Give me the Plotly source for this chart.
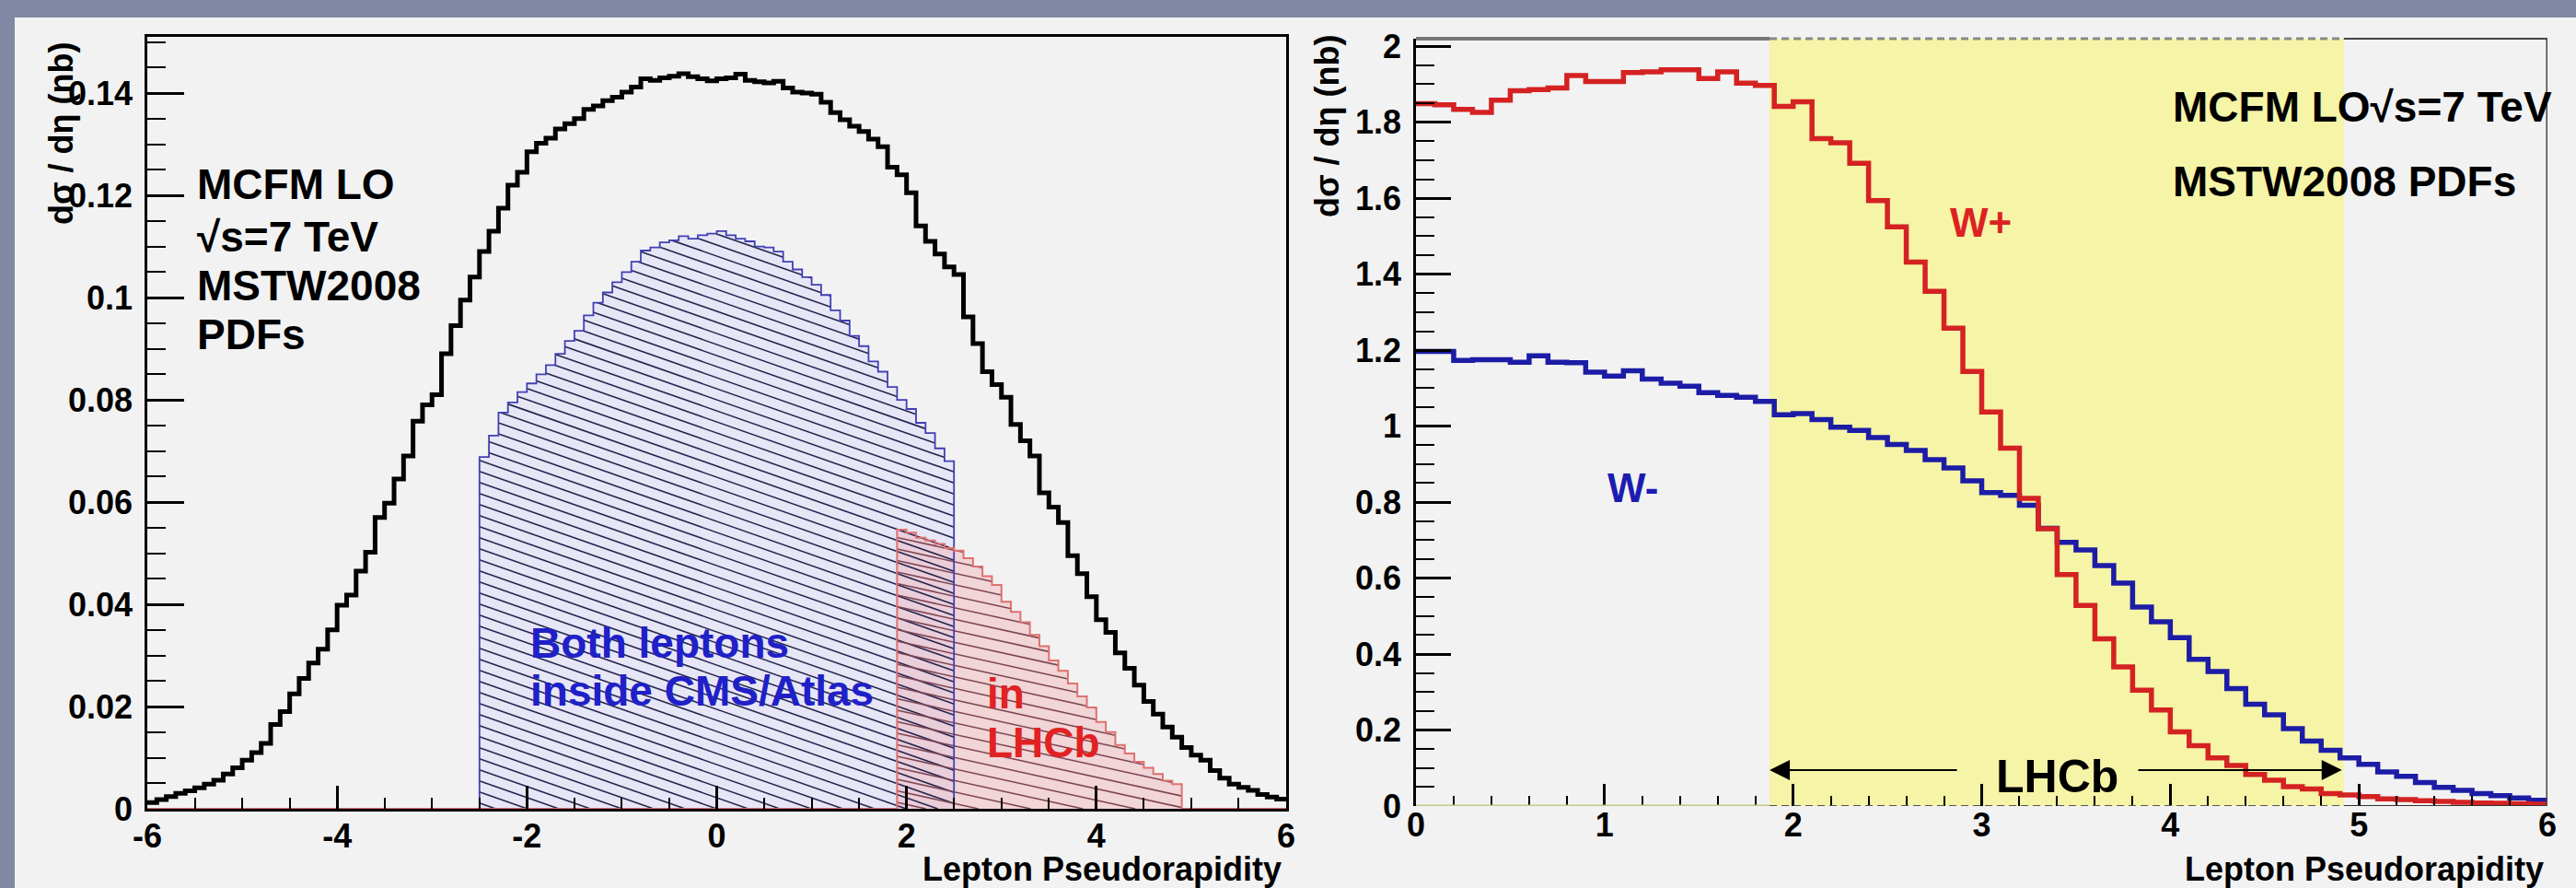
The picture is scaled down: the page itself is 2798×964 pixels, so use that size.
import numpy as np
import plotly.graph_objects as go

# ---------------- data ----------------
BIN_W = 0.1
ALL_START = -6.0
all_leptons = [
    0.0012, 0.0018, 0.0024, 0.0030, 0.0035, 0.0041, 0.0048, 0.0056, 0.0068, 0.0080,
    0.0095, 0.0110, 0.0128, 0.0165, 0.0190, 0.0225, 0.0255, 0.0285, 0.0312, 0.0350,
    0.0398, 0.0418, 0.0465, 0.0502, 0.0570, 0.0598, 0.0645, 0.0690, 0.0758, 0.0790,
    0.0810, 0.0890, 0.0945, 0.0995, 0.1040, 0.1090, 0.1130, 0.1175, 0.1220, 0.1245,
    0.1285, 0.1302, 0.1312, 0.1330, 0.1340, 0.1350, 0.1368, 0.1375, 0.1385, 0.1392,
    0.1402, 0.1412, 0.1428, 0.1425, 0.1430, 0.1433, 0.1438, 0.1432, 0.1428, 0.1424,
    0.1428, 0.1430, 0.1437, 0.1425, 0.1422, 0.1420, 0.1423, 0.1410, 0.1402, 0.1400,
    0.1398, 0.1382, 0.1362, 0.1348, 0.1335, 0.1325, 0.1310, 0.1295, 0.1255, 0.1240,
    0.1205, 0.1140, 0.1110, 0.1085, 0.1060, 0.1045, 0.0962, 0.0910, 0.0855, 0.0830,
    0.0805, 0.0752, 0.0720, 0.0690, 0.0618, 0.0590, 0.0560, 0.0495, 0.0460, 0.0415,
    0.0370, 0.0345, 0.0305, 0.0275, 0.0242, 0.0210, 0.0185, 0.0160, 0.0140, 0.0120,
    0.0105, 0.0095, 0.0075, 0.0060, 0.0048, 0.0042, 0.0036, 0.0028, 0.0023, 0.0019,
]
CMS_START = -2.5
cms_atlas = [
    0.0688, 0.0730, 0.0775, 0.0795, 0.0815, 0.0832, 0.0850, 0.0868, 0.0890, 0.0915,
    0.0935, 0.0965, 0.0990, 0.1010, 0.1030, 0.1050, 0.1070, 0.1092, 0.1098, 0.1108,
    0.1112, 0.1120, 0.1115, 0.1122, 0.1125, 0.1130, 0.1122, 0.1115, 0.1110, 0.1100,
    0.1098, 0.1090, 0.1070, 0.1055, 0.1040, 0.1025, 0.1005, 0.0975, 0.0955, 0.0925,
    0.0905, 0.0875, 0.0855, 0.0825, 0.0800, 0.0782, 0.0755, 0.0735, 0.0705, 0.0680,
]
LHCB_START = 1.9
lhcb = [
    0.0546, 0.0540, 0.0530, 0.0525, 0.0518, 0.0510, 0.0505, 0.0490, 0.0474, 0.0455,
    0.0438, 0.0405, 0.0385, 0.0365, 0.0340, 0.0318, 0.0290, 0.0270, 0.0245, 0.0220,
    0.0198, 0.0170, 0.0150, 0.0125, 0.0108, 0.0092, 0.0080, 0.0068, 0.0055, 0.0048,
]

W_START = 0.0
w_plus = [
    1.849, 1.846, 1.834, 1.826, 1.858, 1.883, 1.886, 1.890, 1.923, 1.907,
    1.907, 1.931, 1.933, 1.938, 1.938, 1.915, 1.933, 1.903, 1.897, 1.842,
    1.854, 1.757, 1.746, 1.692, 1.594, 1.525, 1.432, 1.355, 1.258, 1.144,
    1.037, 0.942, 0.810, 0.730, 0.609, 0.528, 0.440, 0.366, 0.305, 0.253,
    0.195, 0.159, 0.127, 0.107, 0.083, 0.068, 0.051, 0.045, 0.033, 0.029,
    0.025, 0.019, 0.017, 0.014, 0.012, 0.010, 0.008, 0.007, 0.006, 0.005,
]
w_minus = [
    1.197, 1.197, 1.173, 1.175, 1.175, 1.168, 1.185, 1.168, 1.167, 1.142,
    1.132, 1.146, 1.124, 1.113, 1.105, 1.088, 1.081, 1.076, 1.065, 1.030,
    1.033, 1.017, 0.997, 0.989, 0.970, 0.952, 0.936, 0.912, 0.890, 0.856,
    0.825, 0.818, 0.792, 0.731, 0.694, 0.674, 0.633, 0.587, 0.524, 0.485,
    0.443, 0.386, 0.354, 0.309, 0.268, 0.240, 0.204, 0.171, 0.147, 0.127,
    0.110, 0.090, 0.078, 0.062, 0.049, 0.041, 0.033, 0.027, 0.021, 0.015,
]

lhcb_window = [1.875, 4.92]

left_xtick_vals = [-6, -4, -2, 0, 2, 4, 6]
left_xtick_text = ["-6", "-4", "-2", "0", "2", "4", "6"]
left_ytick_vals = [0, 0.02, 0.04, 0.06, 0.08, 0.1, 0.12, 0.14]
left_ytick_text = ["0", "0.02", "0.04", "0.06", "0.08", "0.1", "0.12", "0.14"]
right_xtick_vals = [0, 1, 2, 3, 4, 5, 6]
right_xtick_text = ["0", "1", "2", "3", "4", "5", "6"]
right_ytick_vals = [0, 0.2, 0.4, 0.6, 0.8, 1.0, 1.2, 1.4, 1.6, 1.8, 2.0]
right_ytick_text = ["0", "0.2", "0.4", "0.6", "0.8", "1", "1.2", "1.4", "1.6", "1.8", "2"]

# ---------------- geometry ----------------
W, H = 2798, 964
L_X = (160, 1397)
L_Y = (878, 40)
R_X = (1538, 2767)
R_Y = (875, 42)
L_YMAX = 0.151
R_YMAX = 2.02
FONT = "Liberation Sans, Arial, Helvetica, sans-serif"
SLATE = "#8088a3"
PANEL = "#f2f2f2"


def step(start, vals, close=True):
    edges = [start + i * BIN_W for i in range(len(vals) + 1)]
    if close:
        xs = [edges[0]] + edges + [edges[-1]]
        ys = [0.0] + list(vals) + [vals[-1], 0.0]
    else:
        xs = edges
        ys = list(vals) + [vals[-1]]
    return xs, ys


def hatch(start, vals, slope_px, gap_px, ppx, ppy):
    m = -slope_px * ppx / ppy
    db = gap_px / ppy
    n = len(vals)
    xmin, xmax = start, start + n * BIN_W
    b_min = -m * xmin
    b_max = max(vals) - m * xmax
    xs, ys = [], []
    for k in range(int(np.floor(b_min / db)), int(np.ceil(b_max / db)) + 1):
        b = k * db
        seg = None
        for i, h in enumerate(vals):
            if h <= 0:
                continue
            a = start + i * BIN_W
            c = a + BIN_W
            lo = max(a, (h - b) / m)
            hi = min(c, (0 - b) / m)
            if hi > lo:
                if seg is not None and abs(seg[1] - lo) < 1e-9:
                    seg[1] = hi
                else:
                    if seg is not None:
                        xs += [seg[0], seg[1], None]
                        ys += [b + m * seg[0], b + m * seg[1], None]
                    seg = [lo, hi]
        if seg is not None:
            xs += [seg[0], seg[1], None]
            ys += [b + m * seg[0], b + m * seg[1], None]
    return xs, ys


L_PPX = (L_X[1] - L_X[0]) / 12.0
L_PPY = (L_Y[0] - L_Y[1]) / L_YMAX

fig = go.Figure()

# ---- left panel ----
bx, by = step(CMS_START, cms_atlas)
fig.add_trace(go.Scatter(x=bx, y=by, mode="lines", line=dict(width=0, shape="hv"),
                         fill="tozeroy", fillcolor="#e6e6f6", hoverinfo="skip",
                         xaxis="x", yaxis="y", cliponaxis=False))
rx, ry = step(LHCB_START, lhcb)
fig.add_trace(go.Scatter(x=rx, y=ry, mode="lines", line=dict(width=0, shape="hv"),
                         fill="tozeroy", fillcolor="rgba(242,160,165,0.35)", hoverinfo="skip",
                         xaxis="x", yaxis="y", cliponaxis=False))
hx, hy = hatch(CMS_START, cms_atlas, 0.35, 12.0, L_PPX, L_PPY)
fig.add_trace(go.Scatter(x=hx, y=hy, mode="lines", line=dict(width=1.6, color="#26264e"),
                         hoverinfo="skip", xaxis="x", yaxis="y"))
hx2, hy2 = hatch(LHCB_START, lhcb, 0.22, 12.5, L_PPX, L_PPY)
fig.add_trace(go.Scatter(x=hx2, y=hy2, mode="lines", line=dict(width=1.6, color="#7e4652"),
                         hoverinfo="skip", xaxis="x", yaxis="y"))
fig.add_trace(go.Scatter(x=bx, y=by, mode="lines", line=dict(width=1.8, color="#4040b5", shape="hv"),
                         hoverinfo="skip", xaxis="x", yaxis="y", cliponaxis=False))
# red histogram over whole range (zeros outside LHCb)
red_full = [0.0] * 120
i0 = int(round((LHCB_START - ALL_START) / BIN_W))
for j, v in enumerate(lhcb):
    red_full[i0 + j] = v
fx, fy = step(ALL_START, red_full, close=False)
fig.add_trace(go.Scatter(x=fx, y=fy, mode="lines", line=dict(width=2, color="#e07070", shape="hv"),
                         hoverinfo="skip", xaxis="x", yaxis="y", cliponaxis=False))
ax_, ay_ = step(ALL_START, all_leptons, close=False)
fig.add_trace(go.Scatter(x=ax_, y=ay_, mode="lines", line=dict(width=5, color="black", shape="hv"),
                         hoverinfo="skip", xaxis="x", yaxis="y", cliponaxis=False))

# ---- right panel ----
mx, my = step(W_START, w_minus, close=False)
fig.add_trace(go.Scatter(x=mx, y=my, mode="lines", line=dict(width=5.5, color="#1c1ca6", shape="hv"),
                         hoverinfo="skip", xaxis="x2", yaxis="y2", cliponaxis=False))
px_, py_ = step(W_START, w_plus, close=False)
fig.add_trace(go.Scatter(x=px_, y=py_, mode="lines", line=dict(width=5.5, color="#d42222", shape="hv"),
                         hoverinfo="skip", xaxis="x2", yaxis="y2", cliponaxis=False))

tickfont = dict(family=FONT, size=36, color="black", weight="bold")


def xdom(a, b):
    return [a / W, b / W]


def ydom(bottom_px, top_px):
    return [1 - bottom_px / H, 1 - top_px / H]


common = dict(showgrid=False, zeroline=False, automargin=False, tickcolor="black", tickfont=tickfont,
              tickmode="array")
fig.update_layout(
    width=W, height=H, margin=dict(l=0, r=0, t=0, b=0, pad=0, autoexpand=False),
    paper_bgcolor=PANEL, plot_bgcolor=PANEL, showlegend=False,
    xaxis=dict(domain=xdom(*L_X), range=[-6, 6], showline=True, linecolor="black", linewidth=2.5,
               mirror=True, ticks="inside", ticklen=25, tickwidth=2.5,
               tickvals=left_xtick_vals, ticktext=left_xtick_text, anchor="y",
               minor=dict(ticks="inside", ticklen=12, tickwidth=2, tickcolor="black", dtick=0.5, tick0=0),
               ticklabelstandoff=-4, **common),
    yaxis=dict(domain=ydom(*L_Y), range=[0, L_YMAX], showline=True, linecolor="black",
               linewidth=2.5, mirror=True, ticks="inside", ticklen=40, tickwidth=2.5,
               tickvals=left_ytick_vals, ticktext=left_ytick_text, anchor="x",
               minor=dict(ticks="inside", ticklen=20, tickwidth=2, tickcolor="black", dtick=0.005, tick0=0),
               ticklabelstandoff=6, **common),
    xaxis2=dict(domain=xdom(*R_X), range=[0, 6], showline=False, ticks="inside", ticklen=24,
                tickwidth=2.5, tickvals=right_xtick_vals, ticktext=right_xtick_text, anchor="y2",
                minor=dict(ticks="inside", ticklen=11, tickwidth=2, tickcolor="black", dtick=0.2, tick0=0),
                ticklabelstandoff=-4, **common),
    yaxis2=dict(domain=ydom(*R_Y), range=[0, R_YMAX], showline=True, linecolor="black",
                linewidth=2.5, ticks="inside", ticklen=38, tickwidth=2.5,
                tickvals=right_ytick_vals, ticktext=right_ytick_text, anchor="x2",
                minor=dict(ticks="inside", ticklen=20, tickwidth=2, tickcolor="black", dtick=0.05, tick0=0),
                ticklabelstandoff=6, **common),
)

shapes = [
    # slate frame strips
    dict(type="rect", xref="paper", yref="paper", x0=0, x1=1, y0=1 - 19 / H, y1=1,
         fillcolor=SLATE, line=dict(width=0), layer="above"),
    dict(type="rect", xref="paper", yref="paper", x0=0, x1=16 / W, y0=0, y1=1,
         fillcolor=SLATE, line=dict(width=0), layer="above"),
    # LHCb acceptance band
    dict(type="rect", xref="x2", yref="y2 domain", x0=lhcb_window[0], x1=lhcb_window[1], y0=0, y1=1,
         fillcolor="#f6f4a6", line=dict(width=0), layer="below"),
    # right frame pieces
    dict(type="line", xref="x2", yref="y2", x0=0, x1=lhcb_window[0], y0=0, y1=0,
         line=dict(color="#c8c88a", width=3), layer="above"),
    dict(type="line", xref="x2", yref="y2", x0=lhcb_window[0], x1=lhcb_window[1], y0=0, y1=0,
         line=dict(color="#555555", width=2, dash="8px,5px"), layer="above"),
    dict(type="line", xref="x2", yref="y2", x0=lhcb_window[1], x1=6, y0=0, y1=0,
         line=dict(color="#333333", width=2), layer="above"),
    dict(type="line", xref="x2", yref="y2 domain", x0=0, x1=lhcb_window[0], y0=1, y1=1,
         line=dict(color="#777777", width=4), layer="above"),
    dict(type="line", xref="x2", yref="y2 domain", x0=lhcb_window[0], x1=lhcb_window[1], y0=1, y1=1,
         line=dict(color="#888888", width=3, dash="8px,5px"), layer="above"),
    dict(type="line", xref="x2", yref="y2 domain", x0=lhcb_window[1], x1=6, y0=1, y1=1,
         line=dict(color="#444444", width=2), layer="above"),
    dict(type="line", xref="x2", yref="y2 domain", x0=6, x1=6, y0=0, y1=1,
         line=dict(color="#444444", width=3), layer="above"),
]
fig.update_layout(shapes=shapes)


def txt(x, y, s, ref, size=46, color="black", xanchor="left", angle=0, yanchor="middle"):
    xr, yr = ref
    return dict(x=x, y=y, xref=xr, yref=yr, text=s, showarrow=False, xanchor=xanchor, yanchor=yanchor,
                textangle=angle, font=dict(family=FONT, size=size, color=color, weight="bold"))


L = ("x", "y")
R = ("x2", "y2")
P = ("paper", "paper")
ann = [
    txt(-5.50, 0.1222, "MCFM LO", L),
    txt(-5.50, 0.1119, "\u221as=7 TeV", L),
    txt(-5.50, 0.1023, "MSTW2008", L),
    txt(-5.50, 0.0928, "PDFs", L),
    txt(-1.98, 0.0324, "Both leptons", L, color="#2020c8"),
    txt(-1.98, 0.0231, "inside CMS/Atlas", L, color="#2020c8"),
    txt(2.83, 0.0225, "in", L, color="#e02222"),
    txt(2.83, 0.0130, "LHCb", L, color="#e02222"),
    txt(4.005, 1.841, "MCFM LO\u221as=7 TeV", R),
    txt(4.005, 1.644, "MSTW2008 PDFs", R),
    txt(2.82, 1.537, "W+", R, size=44, color="#dd2222"),
    txt(1.152, 0.839, "W-", R, size=44, color="#1c1cb0", xanchor="center"),
    txt(3.40, 0.078, "LHCb", R, size=50, xanchor="center"),
    txt(1394 / W, 1 - 943 / H, "Lepton Pseudorapidity", P, size=36, xanchor="right"),
    txt(2765 / W, 1 - 943 / H, "Lepton Pseudorapidity", P, size=36, xanchor="right"),
    txt(66 / W, 1 - 145 / H, "d\u03c3 / d\u03b7 (nb)", P, size=36, xanchor="center", angle=-90),
    txt(1442 / W, 1 - 137 / H, "d\u03c3 / d\u03b7 (nb)", P, size=36, xanchor="center", angle=-90),
    dict(x=lhcb_window[0], y=0.0946, ax=2.876, ay=0.0946, xref="x2", yref="y2", axref="x2", ayref="y2",
         showarrow=True, arrowhead=2, arrowsize=2.2, arrowwidth=2, arrowcolor="black", text=""),
    dict(x=4.91, y=0.0946, ax=3.823, ay=0.0946, xref="x2", yref="y2", axref="x2", ayref="y2",
         showarrow=True, arrowhead=2, arrowsize=2.2, arrowwidth=2, arrowcolor="black", text=""),
]
fig.update_layout(annotations=ann)

fig.write_html("out.html")
